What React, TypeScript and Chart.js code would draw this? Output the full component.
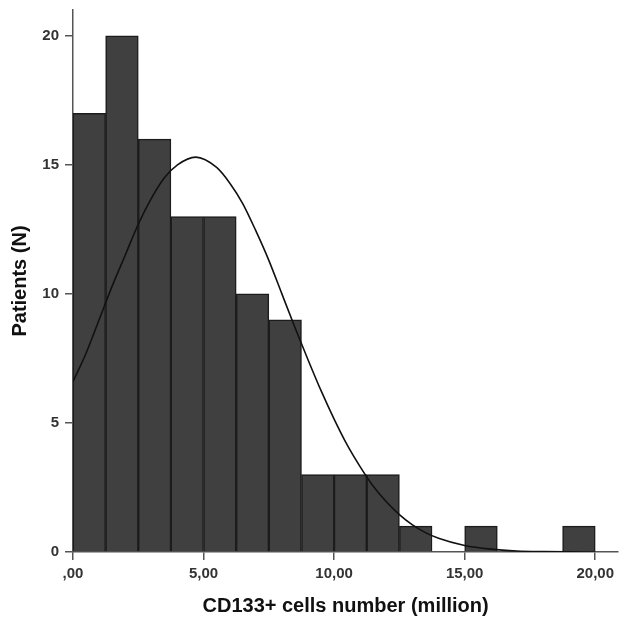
import React, { useEffect, useRef } from "react";
import { Chart, registerables } from "chart.js";

Chart.register(...registerables);

// Histogram bins (start of each 1.25-million wide bin) and patient counts
const binStarts = [0, 1.25, 2.5, 3.75, 5, 6.25, 7.5, 8.75, 10, 11.25, 12.5, 13.75, 15, 16.25, 17.5, 18.75];
const binCounts = [17, 20, 16, 13, 13, 10, 9, 3, 3, 3, 1, 0, 1, 0, 0, 1];
const binWidth = 1.25;

// Fitted normal curve
const curveX = [0, 0.5, 1, 1.5, 2, 2.5, 3, 3.5, 4, 4.7, 5.5, 6, 6.5, 7, 7.5, 8, 8.5, 9, 9.5, 10, 10.5, 11, 11.5, 12, 12.5, 13, 13.5, 14, 15, 16, 17, 18, 19, 20];
const curveY = [6.6, 7.7, 9.0, 10.3, 11.5, 12.7, 13.7, 14.5, 15.0, 15.3, 14.9, 14.3, 13.5, 12.45, 11.3, 10.0, 8.7, 7.45, 6.25, 5.15, 4.15, 3.3, 2.55, 1.95, 1.45, 1.05, 0.75, 0.53, 0.25, 0.11, 0.04, 0.015, 0.005, 0.001];

const xTickValues = [0, 5, 10, 15, 20];
const xTickLabels = [",00", "5,00", "10,00", "15,00", "20,00"];
const yTickValues = [0, 5, 10, 15, 20];

const xTitle = "CD133+ cells number (million)";
const yTitle = "Patients (N)";

export default function App() {
  const ref = useRef<HTMLCanvasElement | null>(null);

  useEffect(() => {
    document.body.style.margin = "0";
    const canvas = ref.current;
    if (!canvas) return;
    const axisColor = "#555555";
    const tickFont = { family: "'Liberation Sans', Arial, sans-serif", size: 15, weight: "bold" as const };
    const titleFont = { family: "'Liberation Sans', Arial, sans-serif", size: 20, weight: "bold" as const };

    const chart = new Chart(canvas, {
      type: "bar",
      data: {
        datasets: [
          {
            type: "line",
            data: curveX.map((x, i) => ({ x, y: curveY[i] })),
            borderColor: "#111111",
            borderWidth: 1.6,
            pointRadius: 0,
            cubicInterpolationMode: "monotone",
            fill: false,
            order: 0,
          } as any,
          {
            type: "bar",
            data: binStarts.map((s, i) => ({ x: s + binWidth / 2, y: binCounts[i] })),
            backgroundColor: "#404040",
            borderColor: "#1c1c1c",
            borderWidth: 1.5,
            barPercentage: 1,
            categoryPercentage: 1,
            order: 1,
          } as any,
        ],
      },
      options: {
        responsive: false,
        animation: false,
        layout: { padding: { top: 10, right: 0, left: 0, bottom: 0 } },
        plugins: { legend: { display: false }, tooltip: { enabled: false } },
        scales: {
          x: {
            type: "linear",
            offset: false,
            min: 0,
            max: 20.88,
            afterBuildTicks: (scale: any) => {
              scale.ticks = xTickValues.map((v) => ({ value: v }));
            },
            afterFit: (scale: any) => {
              scale.height = 66;
            },
            ticks: {
              color: "#333333",
              font: tickFont,
              padding: 5,
              maxRotation: 0,
              autoSkip: false,
              callback: (v: any) => {
                const idx = xTickValues.indexOf(Number(v));
                return idx >= 0 ? xTickLabels[idx] : "";
              },
            },
            grid: { offset: false, drawOnChartArea: false, drawTicks: true, tickLength: 8, color: axisColor, lineWidth: 1.5 },
            border: { display: true, color: axisColor, width: 1.5 },
            title: { display: true, text: xTitle, color: "#111111", font: titleFont, padding: { top: 0, bottom: 0 } },
          },
          y: {
            type: "linear",
            min: 0,
            max: 21,
            afterBuildTicks: (scale: any) => {
              scale.ticks = yTickValues.map((v) => ({ value: v }));
            },
            afterFit: (scale: any) => {
              scale.width = 73;
              scale.paddingTop = 0;
              scale.paddingBottom = 0;
            },
            ticks: { color: "#333333", font: tickFont, padding: 6 },
            grid: { drawOnChartArea: false, drawTicks: true, tickLength: 8, color: axisColor, lineWidth: 1.5 },
            border: { display: true, color: axisColor, width: 1.5 },
            title: { display: true, text: yTitle, color: "#111111", font: titleFont, padding: { top: 8, bottom: 0 } },
          },
        },
      },
    });
    return () => chart.destroy();
  }, []);

  return (
    <div style={{ width: 619, height: 618, background: "#ffffff" }}>
      <canvas ref={ref} width={619} height={618} style={{ display: "block" }} />
    </div>
  );
}
